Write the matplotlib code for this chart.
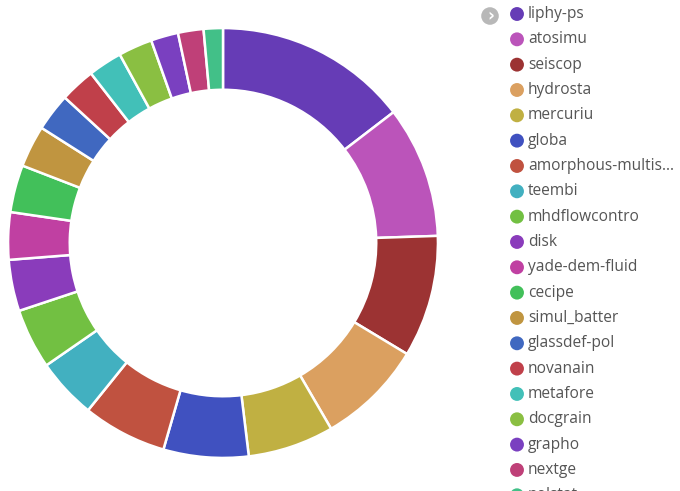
import matplotlib
matplotlib.use('Agg')
import matplotlib.pyplot as plt

labels = ['liphy-ps', 'atosimu', 'seiscop', 'hydrosta', 'mercuriu', 'globa',
          'amorphous-multis...', 'teembi', 'mhdflowcontro', 'disk',
          'yade-dem-fluid', 'cecipe', 'simul_batter', 'glassdef-pol',
          'novanain', 'metafore', 'docgrain', 'grapho', 'nextge', 'nolstat']
values = [52.5, 35.6, 33.0, 28.7, 23.3, 23.0, 22.8, 16.4, 16.3, 13.9,
          12.8, 12.8, 11.3, 10.2, 9.5, 9.2, 9.2, 7.4, 6.9, 5.2]
colors = ['#663cb6', '#bb54ba', '#9c3333', '#dba060', '#c0b042', '#4051c0',
          '#c05240', '#42b0c0', '#72c042', '#8a3cbb', '#c040a2', '#42c05a',
          '#c09540', '#4068c0', '#c0404a', '#42c0b8', '#8abf42', '#7a40c0',
          '#bf4078', '#42c088']

W, H = 680, 491
fig = plt.figure(figsize=(W / 100, H / 100), dpi=100)

# donut
cx, cy, r_out, r_in = 223, 243, 216, 154
ax = fig.add_axes([(cx - r_out) / W, (H - cy - r_out) / H, 2 * r_out / W, 2 * r_out / H])
ax.pie(values, colors=colors, startangle=90, counterclock=False, radius=1,
       wedgeprops=dict(width=(r_out - r_in) / r_out, edgecolor='white', linewidth=1.8))
ax.set_xlim(-1.005, 1.005)
ax.set_ylim(-1.005, 1.005)
ax.set_aspect('equal')
ax.axis('off')

# legend drawn in pixel coords (last row runs off the bottom like the original)
lg = fig.add_axes([0, 0, 1, 1])
lg.set_xlim(0, W)
lg.set_ylim(H, 0)
lg.axis('off')
y0, dy = 14, 25.33
for i, (lab, col) in enumerate(zip(labels, colors)):
    y = y0 + i * dy
    lg.scatter([517], [y], s=100, color=col, edgecolors='none', clip_on=True)
    lg.text(528, y, lab, fontsize=11.2, family='Open Sans', color='#555555',
            va='center', ha='left', clip_on=True)

# little arrow button
lg.scatter([490], [16], s=160, color='#b8b8b8', edgecolors='none')
lg.text(490.5, 16, '›', fontsize=12, color='white', ha='center', va='center',
        fontweight='bold')

fig.savefig('out.png', dpi=100)
